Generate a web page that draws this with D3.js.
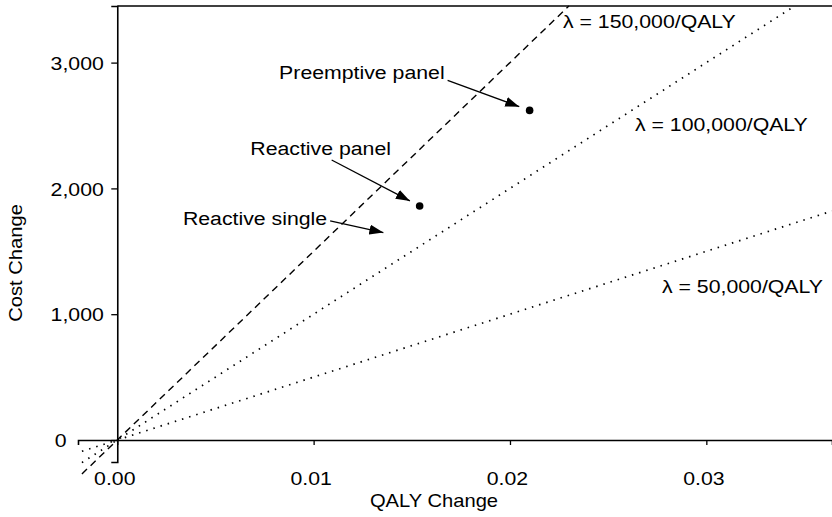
<!DOCTYPE html>
<html>
<head>
<meta charset="utf-8">
<script src="https://cdn.jsdelivr.net/npm/d3@7"></script>
<style>
body { margin:0; background:#fff; }
text { font-family: Arial, "Liberation Sans", sans-serif; fill:#000; }
</style>
</head>
<body>
<div class="canvas"></div>
<script>
//------------------------data
const xTicks = [0, 0.01, 0.02, 0.03];
const yTicks = [0, 1000, 2000, 3000];

const lambdas = [150000, 100000, 50000];
const lambdaLabels = ['λ = 150,000/QALY', 'λ = 100,000/QALY', 'λ = 50,000/QALY'];

const strategies = ['Preemptive panel', 'Reactive panel', 'Reactive single'];
const qalyChange = [0.0210, 0.0154, 0.0141];
const costChange = [2620, 1860, 1630];
const dotShown = [true, true, false];

//------------------------layout (pixels)
const dims = { width: 832, height: 517 };
const xDomain = [-0.002, 0.0364];
const yDomain = [-175, 3450];
const lineStartX = -0.0018;
const stretch = 1.12; // text in the picture is a bit wider than tall

// label placement relative to each point: text anchor, arrow start
const labelPos = [
  { dx: -85, dy: -31, anchor: 'end', ax: -82, ay: -30 },
  { dx: -99, dy: -51, anchor: 'middle', ax: -88, ay: -46 },
  { dx: -67, dy: -10, anchor: 'end', ax: -64, ay: -14 }
];
const lambdaLabelPos = [[563, 28], [635, 131], [662, 293]];

//------------------------svg container
const svg = d3.select('.canvas')
.append('svg')
.attr('width', dims.width)
.attr('height', dims.height);

const x = d3.scaleLinear().domain(xDomain).range([78, 832]);
const y = d3.scaleLinear().domain(yDomain).range([462, 6]);

// helper for the slightly stretched text
const label = (g, px, py, str, anchor, size, rot) => g.append('text')
  .attr('transform', `translate(${px},${py})${rot ? ` rotate(${rot})` : ''} scale(${stretch},1)`)
  .attr('text-anchor', anchor || 'start')
  .style('font-size', (size || 19) + 'px')
  .text(str);

//------------------------arrow marker
svg.append('defs').append('marker')
.attr('id', 'head')
.attr('markerUnits', 'userSpaceOnUse')
.attr('viewBox', '0 -5 14 10')
.attr('refX', 14).attr('refY', 0)
.attr('markerWidth', 14).attr('markerHeight', 10)
.attr('orient', 'auto')
.append('path')
.attr('d', 'M0,-5L14,0L0,5Z')
.attr('fill', '#000');

//------------------------threshold lines (clipped at the top frame)
lambdas.forEach((l, i) => {
  const x1 = Math.min(xDomain[1], yDomain[1] / l);
  svg.append('line')
  .attr('x1', x(lineStartX)).attr('y1', y(lineStartX * l))
  .attr('x2', x(x1)).attr('y2', y(x1 * l))
  .attr('stroke', '#000')
  .attr('stroke-width', i === 0 ? 1.4 : 1.7)
  .attr('stroke-dasharray', i === 0 ? '7,5' : '1.5,6');

  label(svg, lambdaLabelPos[i][0], lambdaLabelPos[i][1], lambdaLabels[i], 'start');
});

//------------------------axes
const yAxis = svg.append('g')
.attr('transform', `translate(${x(0)},0)`)
.call(d3.axisLeft(y).tickValues(yTicks).tickSize(6).tickPadding(7).tickFormat(d3.format(',')));

yAxis.selectAll('text')
.attr('x', d => d === 0 ? x(xDomain[0]) - x(0) - 6 : -12)
.attr('dy', '0.35em')
.attr('transform', `scale(${stretch},1)`)
.style('font-size', '19px');

const xAxis = svg.append('g')
.attr('transform', `translate(0,${y(0)})`)
.call(d3.axisBottom(x).tickValues(xTicks).tickSize(5).tickFormat(d3.format('.2f')));

xAxis.selectAll('text')
.attr('x', -3 / stretch)
.attr('y', 32)
.attr('dy', '0.71em')
.attr('transform', `scale(${stretch},1)`)
.style('font-size', '19px');

svg.selectAll('.domain').attr('stroke-width', 1.6);
svg.selectAll('.tick line').attr('stroke-width', 1.3);
svg.selectAll('.tick text').style('font-family', 'Arial, "Liberation Sans", sans-serif');

// top frame
svg.append('line')
.attr('x1', x(0)).attr('x2', x(xDomain[1]))
.attr('y1', y(yDomain[1])).attr('y2', y(yDomain[1]))
.attr('stroke', '#000').attr('stroke-width', 1.6);

//------------------------axis titles
label(svg, 434, 507, 'QALY Change', 'middle', 18);
label(svg, 22, 263, 'Cost Change', 'middle', 18, -90);

//------------------------points and annotations
strategies.forEach((s, i) => {
  const px = x(qalyChange[i]), py = y(costChange[i]);
  const p = labelPos[i];
  if (dotShown[i]) {
    svg.append('circle').attr('cx', px).attr('cy', py).attr('r', 3.8).attr('fill', '#000');
  }
  const len = Math.hypot(p.ax, p.ay);
  const gap = 11;
  svg.append('line')
  .attr('x1', px + p.ax).attr('y1', py + p.ay)
  .attr('x2', px + p.ax / len * gap).attr('y2', py + p.ay / len * gap)
  .attr('stroke', '#000').attr('stroke-width', 1.3)
  .attr('marker-end', 'url(#head)');

  label(svg, px + p.dx, py + p.dy, s, p.anchor);
});
</script>
</body>
</html>
